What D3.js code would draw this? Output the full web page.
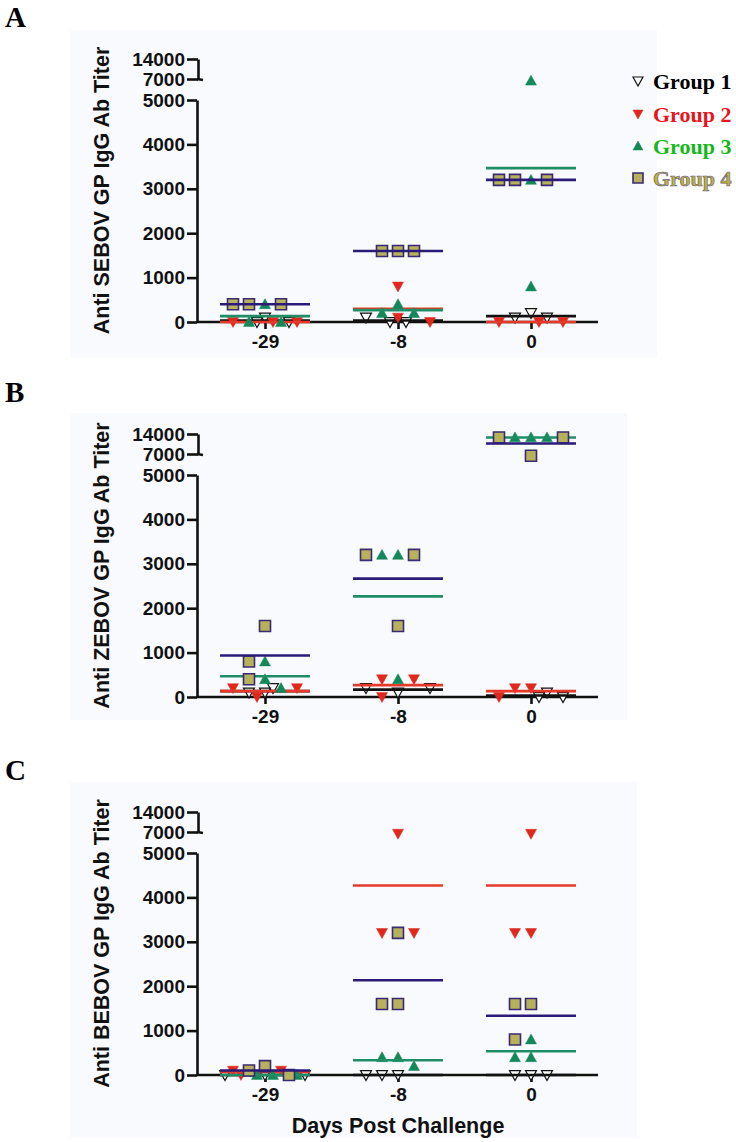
<!DOCTYPE html>
<html>
<head>
<meta charset="utf-8">
<script src="https://cdn.jsdelivr.net/npm/d3@7"></script>
<style>
  html, body { margin: 0; padding: 0; background: #ffffff; }
  svg { display: block; }
</style>
</head>
<body>
<svg id="chart" width="736" height="1142"></svg>
<script>
// ---------------- DATA ----------------
const categories = ["-29", "-8", "0"];
const groupNames = ["Group 1", "Group 2", "Group 3", "Group 4"];
const yTickLow = [0, 1000, 2000, 3000, 4000, 5000];
const yTickHigh = [7000, 14000];
const panelLetters = ["A", "B", "C"];
const yTitles = ["Anti SEBOV GP IgG Ab Titer", "Anti ZEBOV GP IgG Ab Titer", "Anti BEBOV GP IgG Ab Titer"];
const xTitle = "Days Post Challenge";

// values per category (-29, -8, 0), three animals each
const sebovG1 = [[0, 0, 100], [0, 0, 100], [100, 200, 100]];
const sebovG2 = [[0, 0, 0], [800, 100, 0], [0, 0, 0]];
const sebovG3 = [[400, 0, 0], [400, 200, 200], [6400, 3200, 800]];
const sebovG4 = [[400, 400, 400], [1600, 1600, 1600], [3200, 3200, 3200]];

const zebovG1 = [[200, 100, 100], [200, 100, 200], [0, 0, 100]];
const zebovG2 = [[0, 200, 200], [400, 400, 0], [200, 0, 200]];
const zebovG3 = [[800, 400, 200], [3200, 3200, 400], [12800, 12800, 12800]];
const zebovG4 = [[1600, 800, 400], [3200, 3200, 1600], [12800, 12800, 6400]];

const bebovG1 = [[0, 0, 0], [0, 0, 0], [0, 0, 0]];
const bebovG2 = [[100, 100, 0], [6400, 3200, 3200], [6400, 3200, 3200]];
const bebovG3 = [[0, 0, 0], [400, 400, 200], [800, 400, 400]];
const bebovG4 = [[100, 200, 0], [3200, 1600, 1600], [1600, 1600, 800]];

const panelData = [
  [sebovG1, sebovG2, sebovG3, sebovG4],
  [zebovG1, zebovG2, zebovG3, zebovG4],
  [bebovG1, bebovG2, bebovG3, bebovG4]
];

// ---------------- STYLE / LAYOUT ----------------
const svg = d3.select("#chart");
const sans = "'Liberation Sans', Arial, Helvetica, sans-serif";
const serif = "'Liberation Serif', 'Times New Roman', serif";
const zeros = [322, 697, 1075];
const bgRects = [[70, 30, 587, 328], [70, 413, 557, 307], [70, 782, 567, 356]];
const axisX = 197;
const styles = [
  { shape: "down", fill: "#ffffff", stroke: "#111111", sw: 1.2, line: "#111111" },
  { shape: "down", fill: "#e0281c", stroke: "#d8261b", sw: 0.5, line: "#e6392b" },
  { shape: "up", fill: "#14885a", stroke: "#14885a", sw: 0.5, line: "#1f8d66" },
  { shape: "square", fill: "#b5b15c", stroke: "#3a2a72", sw: 1.6, line: "#2b1a78" }
];
const legendText = [
  { fill: "#000000", stroke: "none" },
  { fill: "#e8161c", stroke: "none" },
  { fill: "#15b81b", stroke: "none" },
  { fill: "#bfb52a", stroke: "#6d6394" }
];

function shapePath(shape, s) {
  const h = s / 2;
  if (shape === "up") return `M0,${-h} L${h},${h * 0.8} L${-h},${h * 0.8} Z`;
  if (shape === "down") return `M${-h},${-h * 0.8} L${h},${-h * 0.8} L0,${h} Z`;
  return `M${-h},${-h} H${h} V${h} H${-h} Z`;
}

const x = d3.scalePoint().domain(categories).range([265, 531]);

panelData.forEach((groups, pi) => {
  const zero = zeros[pi];
  const g = svg.append("g");
  const bg = bgRects[pi];
  g.append("rect").attr("x", bg[0]).attr("y", bg[1]).attr("width", bg[2]).attr("height", bg[3])
    .attr("fill", "#f8fafd");

  // letter
  g.append("text").attr("x", 5).attr("y", zero - 295)
    .attr("font-family", serif).attr("font-weight", "bold").attr("font-size", 29)
    .text(panelLetters[pi]);

  const yLow = d3.scaleLinear().domain([0, 5000]).range([zero, zero - 222]);
  const yHigh = d3.scaleLinear().domain([7000, 14000]).range([zero - 243, zero - 263]);
  const y = v => (v <= 5000 ? yLow(v) : yHigh(v));

  // y axis lower
  const axL = g.append("g").attr("transform", `translate(${axisX},0)`)
    .call(d3.axisLeft(yLow).tickValues(yTickLow).tickSize(10).tickPadding(2).tickSizeOuter(0).tickFormat(d3.format("d")));
  axL.select(".domain").attr("stroke-width", 2.6).attr("stroke", "#111");
  axL.selectAll(".tick line").attr("stroke-width", 2.6).attr("stroke", "#111");
  axL.selectAll(".tick text").attr("font-family", sans).attr("font-weight", "bold")
    .attr("font-size", 19).attr("fill", "#111");

  // y axis upper (broken)
  const axH = g.append("g").attr("transform", `translate(${axisX + 1},0)`)
    .call(d3.axisLeft(yHigh).tickValues(yTickHigh).tickSize(11).tickPadding(2).tickSizeOuter(0).tickFormat(d3.format("d")));
  axH.select(".domain").attr("stroke-width", 2.6).attr("stroke", "#111");
  axH.selectAll(".tick line").attr("stroke-width", 2.6).attr("stroke", "#111");
  axH.selectAll(".tick text").attr("font-family", sans).attr("font-weight", "bold")
    .attr("font-size", 19).attr("fill", "#111");
  g.append("line").attr("x1", axisX).attr("x2", axisX + 6)
    .attr("y1", yHigh(7000)).attr("y2", yHigh(7000) + 1)
    .attr("stroke", "#111").attr("stroke-width", 2.6);

  // x axis
  g.append("line").attr("x1", axisX).attr("x2", 598).attr("y1", zero).attr("y2", zero)
    .attr("stroke", "#111").attr("stroke-width", 2.6);
  const axB = g.append("g").attr("transform", `translate(0,${zero})`)
    .call(d3.axisBottom(x).tickSize(7).tickPadding(6).tickSizeOuter(0));
  axB.select(".domain").remove();
  axB.selectAll(".tick line").attr("stroke-width", 2.6).attr("stroke", "#111");
  axB.selectAll(".tick text").attr("font-family", sans).attr("font-weight", "bold")
    .attr("font-size", 19).attr("fill", "#111");

  // y title
  const midY = (yHigh(14000) + zero) / 2;
  g.append("text").attr("transform", `translate(102,${midY}) rotate(-90)`)
    .attr("text-anchor", "middle").attr("dominant-baseline", "central")
    .attr("font-family", sans).attr("font-weight", "bold").attr("font-size", 21.5)
    .attr("fill", "#111").text(yTitles[pi]);

  // point placement (beeswarm-style slots)
  const order = [2, 3, 1, 0];
  const slots = [0, -16, 16, -32, 32, 8, -8, 24, -24, 40, -40];
  const pts = [];
  categories.forEach((c, ci) => {
    const list = [];
    groups.forEach((arr, gi) => arr[ci].forEach(v => list.push({ gi, ci, v, py: y(v) })));
    list.sort((a, b) => (b.v - a.v) || (order.indexOf(a.gi) - order.indexOf(b.gi)));
    const placed = [];
    list.forEach(p => {
      let s = slots.find(s => !placed.some(q => q.s === s && Math.abs(q.py - p.py) < 9.5));
      if (s === undefined) s = 0;
      p.s = s;
      placed.push(p);
      pts.push(p);
    });
  });

  // draw each group: points then mean line
  [0, 1, 2, 3].forEach(gi => {
    const st = styles[gi];
    g.append("g").selectAll("path").data(pts.filter(p => p.gi === gi)).join("path")
      .attr("d", shapePath(st.shape, 11))
      .attr("transform", p => `translate(${x(categories[p.ci]) + p.s},${p.py})`)
      .attr("fill", st.fill).attr("stroke", st.stroke).attr("stroke-width", st.sw);
    g.append("g").selectAll("line").data(categories).join("line")
      .attr("x1", c => x(c) - 45).attr("x2", c => x(c) + 45)
      .attr("y1", (c, ci) => y(d3.mean(groups[gi][ci])))
      .attr("y2", (c, ci) => y(d3.mean(groups[gi][ci])))
      .attr("stroke", st.line).attr("stroke-width", 2.6);
  });

  if (pi === 2) {
    g.append("text").attr("x", x("-8")).attr("y", 1133).attr("text-anchor", "middle")
      .attr("font-family", sans).attr("font-weight", "bold").attr("font-size", 21.5)
      .attr("fill", "#111").text(xTitle);
  }
});

// legend (panel A)
const legendY = [81, 114, 146, 178];
const lg = svg.append("g");
groupNames.forEach((name, i) => {
  const st = styles[i];
  lg.append("path").attr("d", shapePath(st.shape, 10))
    .attr("transform", `translate(638,${legendY[i]})`)
    .attr("fill", st.fill).attr("stroke", st.stroke).attr("stroke-width", st.sw);
  lg.append("text").attr("x", 653).attr("y", legendY[i] + 8)
    .attr("font-family", serif).attr("font-weight", "bold").attr("font-size", 22)
    .attr("fill", legendText[i].fill).attr("stroke", legendText[i].stroke)
    .attr("stroke-width", legendText[i].stroke === "none" ? 0 : 0.7)
    .text(name);
});
</script>
</body>
</html>
